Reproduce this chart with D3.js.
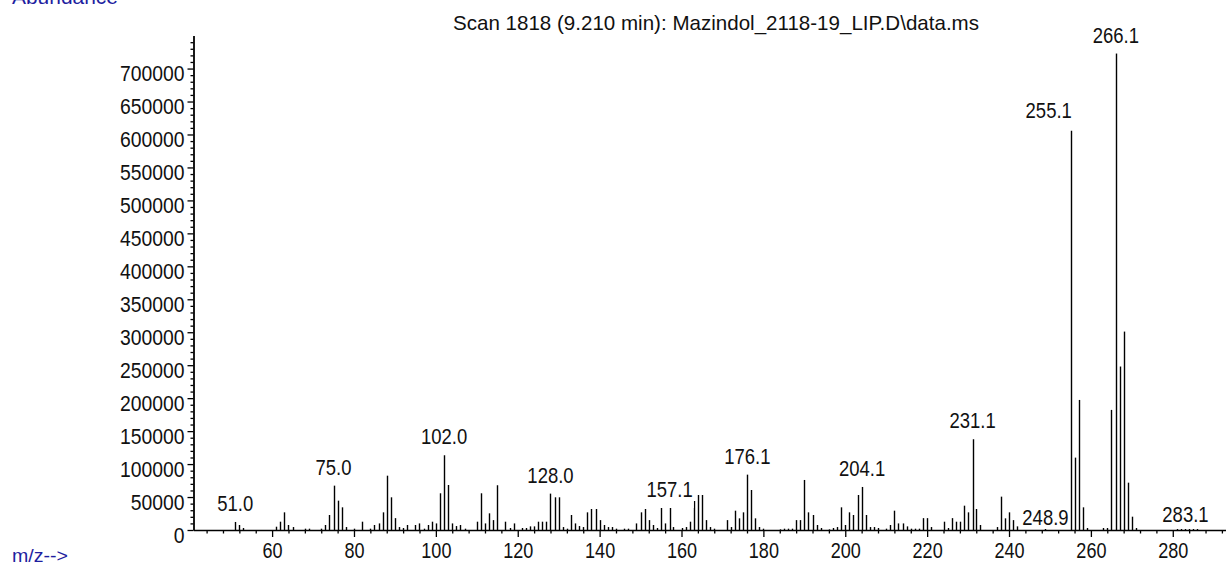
<!DOCTYPE html>
<html>
<head>
<meta charset="utf-8">
<script src="https://cdn.jsdelivr.net/npm/d3@7"></script>
<style>
  html, body { margin: 0; padding: 0; background: #fff; }
  svg { display: block; }
  .num { font-family: "Liberation Sans", Arial, sans-serif; font-size: 22px; fill: #111; }
</style>
</head>
<body>
<svg id="chart" width="1226" height="567"></svg>
<script>
// ---- data ----
const titleText = "Scan 1818 (9.210 min): Mazindol_2118-19_LIP.D\\data.ms";
const yAxisTitle = "Abundance";
const xAxisTitle = "m/z-->";

const mzValues = [
  51.0, 52, 53, 61, 62, 63, 64, 65, 68, 69, 72, 73, 74, 75.0, 76, 77, 78, 80, 82, 84, 85, 86, 87, 88, 89, 90,
  91, 92, 93, 95, 96, 97, 98, 99, 100, 101, 102.0, 103, 104, 105, 106, 107, 110, 111, 112, 113, 114, 115,
  117, 118, 119, 121, 122, 123, 124, 125, 126, 127, 128.0, 129, 130, 131, 132, 133, 134, 135, 136, 137, 138,
  139, 140, 141, 142, 143, 144, 146, 147, 149, 150, 151, 152, 153, 154, 155, 156, 157.1, 158, 160, 161, 162,
  163, 164, 165, 166, 167, 168, 171, 172, 173, 174, 175, 176.1, 177, 178, 179, 180, 184, 185, 186, 187, 188,
  189, 190, 191, 192, 193, 194, 196, 197, 198, 199, 200, 201, 202, 203, 204.1, 205, 206, 207, 208, 210, 211,
  212, 213, 214, 215, 216, 217, 218, 219, 220, 221, 224, 225, 226, 227, 228, 229, 230, 231.1, 232, 233, 237,
  238, 239, 240, 241, 242, 248.9, 255.1, 256, 257, 258, 259, 263, 264, 265, 266.1, 267, 268, 269, 270, 271,
  281, 282, 283.1, 284, 285, 286
];
const abundances = [
  22800, 7600, 3000, 5000, 12600, 26800, 7600, 4500, 2000, 2000, 2000, 7600, 22800, 77900, 44500, 34400, 4500, 2000, 12600, 2000, 7600, 10000, 26800, 82400, 49600, 18000,
  4500, 3000, 7600, 7600, 10000, 2000, 7600, 12600, 10000, 55700, 124000, 68300, 10000, 6000, 7600, 2000, 12600, 55700, 10000, 25300, 15000, 67900,
  12600, 3000, 10000, 3000, 3000, 5500, 5500, 12600, 12600, 12600, 65800, 49600, 49600, 4500, 2000, 22800, 10000, 6000, 4500, 26800, 31900,
  31900, 15000, 7600, 4500, 4500, 2000, 2000, 2000, 10000, 26800, 31900, 15000, 7600, 3000, 44000, 10000, 44000, 4500, 3000, 4500, 12600,
  44000, 53100, 53100, 15000, 4500, 2000, 15000, 4500, 29300, 17700, 26800, 94600, 60700, 17700, 4500, 2000, 1000, 2000, 2000, 2000, 15000,
  15000, 75900, 26800, 22800, 7600, 3000, 1000, 3000, 4500, 34400, 7600, 26800, 22800, 53100, 75900, 22800, 4500, 4500, 3000, 2000, 7600,
  29300, 10000, 10000, 5500, 2000, 2000, 2000, 18000, 18000, 4500, 12600, 3000, 18000, 12600, 12600, 36900, 26800, 148300, 31900, 7600, 4500,
  50600, 17700, 26800, 15000, 5500, 1500, 605500, 109800, 197300, 34400, 3000, 3000, 3000, 182200, 733400, 248000, 301000, 71800, 20200, 3000,
  2000, 3000, 5500, 4500, 3000, 2000
];

const labeledMz = [51.0, 75.0, 102.0, 128.0, 157.1, 176.1, 204.1, 231.1, 248.9, 255.1, 266.1, 283.1];
const labelAnchors = ["middle","middle","middle","middle","middle","middle","middle","middle","middle","end","middle","middle"];

const xMajorTicks = d3.range(60, 281, 20);
const xMinorTicks = d3.range(44, 293, 4).filter(v => v % 20 !== 0);
const yMajorTicks = d3.range(0, 700001, 50000);
const yMinorTicks = d3.range(0, 750001, 10000).filter(v => v % 50000 !== 0);

// ---- chart ----
const svg = d3.select("#chart");
const W = 1226, H = 567;
svg.append("rect").attr("width", W).attr("height", H).attr("fill", "#fff");

const x = d3.scaleLinear().domain([40.8, 293]).range([193.5, 1226]);
const y = d3.scaleLinear().domain([0, 750000]).range([530, 35.6]);

const peaks = mzValues.map((m, i) => ({ mz: m, ab: abundances[i] }));

// condense a text horizontally (the original uses a narrow screen font)
function condense(sel, factor) {
  sel.each(function () {
    const w = this.getComputedTextLength();
    d3.select(this).attr("textLength", w * factor).attr("lengthAdjust", "spacingAndGlyphs");
  });
}

// bars (stick spectrum)
svg.append("g").selectAll("line").data(peaks).join("line")
  .attr("x1", d => Math.round(x(d.mz)) + 0.5)
  .attr("x2", d => Math.round(x(d.mz)) + 0.5)
  .attr("y1", y(0))
  .attr("y2", d => y(d.ab))
  .attr("stroke", "#000")
  .attr("stroke-width", 1.4);

// axes
const gx = svg.append("g").attr("transform", `translate(0,${y(0)})`);
gx.call(d3.axisBottom(x).tickValues(xMinorTicks).tickSize(3.5).tickSizeOuter(0).tickFormat(""));
gx.selectAll(".tick line").attr("stroke-width", 1.3);
const gx2 = svg.append("g").attr("transform", `translate(0,${y(0)})`);
gx2.call(d3.axisBottom(x).tickValues(xMajorTicks).tickSize(7).tickPadding(5).tickSizeOuter(0).tickFormat(d3.format("d")));
gx2.attr("font-size", null).attr("font-family", null);
gx2.selectAll("text").attr("class", "num").attr("fill", null).call(condense, 0.82);
gx2.selectAll(".tick line").attr("stroke-width", 1.3);
gx2.select(".domain").attr("stroke-width", 1.6);

const gy = svg.append("g").attr("transform", `translate(${x.range()[0]},0)`);
gy.call(d3.axisLeft(y).tickValues(yMinorTicks).tickSize(3).tickSizeOuter(0).tickFormat(""));
gy.selectAll(".tick line").attr("stroke-width", 1.3);
const gy2 = svg.append("g").attr("transform", `translate(${x.range()[0]},0)`);
gy2.call(d3.axisLeft(y).tickValues(yMajorTicks).tickSize(6).tickPadding(3).tickSizeOuter(0).tickFormat(d3.format("d")));
gy2.attr("font-size", null).attr("font-family", null);
gy2.selectAll("text").attr("class", "num").attr("fill", null).attr("dy", "0.55em").call(condense, 0.88);
gy2.selectAll(".tick line").attr("stroke-width", 1.3);
gy2.select(".domain").attr("stroke-width", 1.6);

// peak labels (with white background box like the original)
const labelG = svg.append("g");
labeledMz.forEach((m, i) => {
  const p = peaks.find(d => d.mz === m);
  const anchor = labelAnchors[i];
  const lift = anchor === "end" ? 13 : 4;
  const g = labelG.append("g");
  const t = g.append("text").attr("class", "num")
    .attr("text-anchor", anchor)
    .attr("x", x(m) + (anchor === "end" ? 1 : 0))
    .attr("y", y(p.ab) - lift)
    .text(d3.format(".1f")(m));
  condense(t, 0.84);
  const bb = t.node().getBBox();
  g.insert("rect", "text")
    .attr("x", bb.x - 2).attr("y", bb.y + 2)
    .attr("width", bb.width + 3)
    .attr("height", Math.min(bb.height + 4, y(0) - 1 - (bb.y + 2)))
    .attr("fill", "#fff");
});

// title
svg.append("text")
  .attr("x", 716).attr("y", 30)
  .attr("text-anchor", "middle")
  .attr("font-family", "'Liberation Sans', Arial, sans-serif")
  .attr("font-size", 21)
  .attr("fill", "#111")
  .attr("textLength", 526).attr("lengthAdjust", "spacingAndGlyphs")
  .text(titleText);

// axis captions (blue)
svg.append("text")
  .attr("x", 12).attr("y", 4)
  .attr("font-family", "'Liberation Sans', Arial, sans-serif")
  .attr("font-size", 20)
  .attr("fill", "#1e1ea0")
  .attr("textLength", 106).attr("lengthAdjust", "spacingAndGlyphs")
  .text(yAxisTitle);

svg.append("text")
  .attr("x", 12).attr("y", 562)
  .attr("font-family", "'Liberation Sans', Arial, sans-serif")
  .attr("font-size", 18)
  .attr("fill", "#1e1ea0")
  .attr("textLength", 56).attr("lengthAdjust", "spacingAndGlyphs")
  .text(xAxisTitle);
</script>
</body>
</html>
